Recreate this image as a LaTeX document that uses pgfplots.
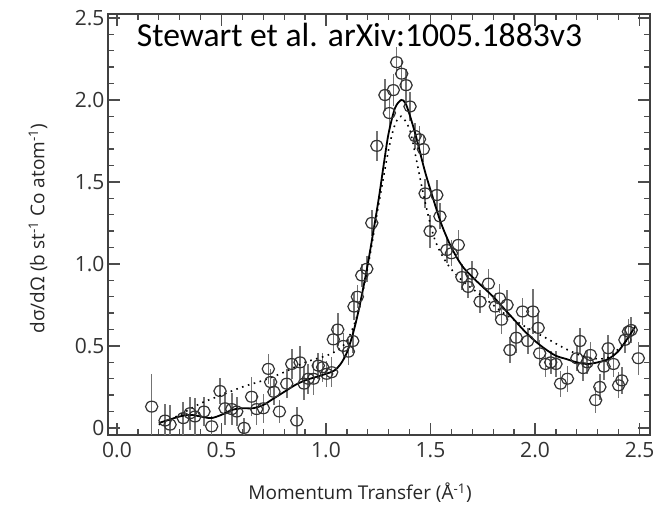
\documentclass[border=0pt]{standalone}
\usepackage{fontspec}
\setmainfont{Open Sans}
\newfontfamily\titlefont{Carlito}
\usepackage{pgfplots}
\pgfplotsset{compat=1.18}
\pgfplotsset{error bars/error bar style={draw=black!55, line width=1.6pt}}

\begin{document}
\begin{tikzpicture}
\begin{axis}[
  scale only axis,
  width=542pt, height=421pt,
  xmin=-0.043, xmax=2.55,
  ymin=-0.043, ymax=2.524,
  xtick={0,0.5,1,1.5,2,2.5},
  xticklabels={0.0,0.5,1.0,1.5,2.0,2.5},
  ytick={0,0.5,1,1.5,2,2.5},
  yticklabels={0,0.5,1.0,1.5,2.0,2.5},
  minor x tick num=4, minor y tick num=4,
  major tick length=12pt, minor tick length=6pt,
  tick style={black!70, line width=1.3pt},
  axis line style={black!75, line width=1.4pt},
  tick label style={font=\fontsize{21}{24}\selectfont, text=black!80},
  xticklabel style={yshift=-4pt},
  /pgf/number format/assume math mode=true,
  every axis x label/.style={at={(axis description cs:0.465,-0.138)}, anchor=center,
     font=\fontsize{19}{22}\selectfont, text=black!85},
  every axis y label/.style={at={(axis description cs:-0.129,0.49)}, rotate=90, anchor=center,
     font=\fontsize{19}{22}\selectfont, text=black!85},
  xlabel={Momentum Transfer (Å\textsuperscript{-1})},
  ylabel={dσ/dΩ (b st\textsuperscript{-1} Co atom\textsuperscript{-1})},
  clip=true,
]
% data points with error bars
\addplot[only marks, mark=o, mark size=5.7pt,
  mark options={draw=black!80, line width=1.2pt, fill=none, xscale=1.08, yscale=0.95},
  error bars/.cd, y dir=both, y explicit, error mark=none]
table[x=x, y=y, y error=e] {
x y e
0.166 0.13 0.20
0.230 0.045 0.10
0.254 0.02 0.12
0.317 0.06 0.10
0.350 0.09 0.10
0.373 0.07 0.11
0.416 0.10 0.09
0.453 0.01 0.06
0.493 0.225 0.08
0.517 0.12 0.10
0.549 0.115 0.10
0.573 0.10 0.09
0.608 0.00 0.06
0.644 0.19 0.12
0.668 0.115 0.10
0.700 0.12 0.09
0.724 0.36 0.09
0.735 0.28 0.08
0.751 0.22 0.08
0.777 0.10 0.07
0.812 0.27 0.09
0.836 0.39 0.09
0.860 0.045 0.08
0.876 0.40 0.10
0.895 0.27 0.10
0.915 0.30 0.09
0.940 0.30 0.10
0.963 0.38 0.08
0.984 0.37 0.09
1.003 0.33 0.08
1.027 0.34 0.09
1.035 0.54 0.08
1.056 0.60 0.10
1.083 0.50 0.08
1.107 0.465 0.08
1.128 0.53 0.07
1.134 0.74 0.08
1.150 0.80 0.07
1.171 0.93 0.07
1.195 0.97 0.08
1.219 1.25 0.08
1.243 1.72 0.09
1.282 2.03 0.10
1.303 1.92 0.10
1.322 2.06 0.10
1.338 2.23 0.09
1.362 2.16 0.09
1.383 2.09 0.10
1.402 1.96 0.09
1.426 1.78 0.08
1.447 1.76 0.08
1.466 1.70 0.08
1.474 1.43 0.09
1.498 1.20 0.10
1.530 1.42 0.09
1.545 1.29 0.08
1.578 1.085 0.08
1.600 1.065 0.08
1.633 1.116 0.09
1.650 0.92 0.08
1.680 0.86 0.07
1.697 0.94 0.08
1.737 0.77 0.07
1.777 0.88 0.09
1.810 0.74 0.08
1.830 0.79 0.09
1.840 0.66 0.09
1.866 0.75 0.09
1.880 0.475 0.08
1.910 0.55 0.09
1.940 0.71 0.08
1.965 0.53 0.08
1.990 0.71 0.14
2.015 0.61 0.09
2.022 0.455 0.08
2.050 0.39 0.08
2.075 0.40 0.07
2.100 0.39 0.08
2.122 0.27 0.08
2.155 0.30 0.08
2.200 0.425 0.08
2.215 0.53 0.08
2.230 0.365 0.08
2.250 0.40 0.07
2.265 0.445 0.08
2.290 0.17 0.08
2.310 0.25 0.08
2.330 0.374 0.08
2.350 0.486 0.08
2.375 0.39 0.08
2.400 0.26 0.08
2.415 0.29 0.08
2.430 0.537 0.08
2.447 0.587 0.08
2.460 0.597 0.08
2.494 0.425 0.10
};
% dotted model curve
\addplot[black, line width=1.6pt, dash pattern=on 1.6pt off 4.5pt, smooth] coordinates {
(0.20,0.02) (0.30,0.08) (0.40,0.15) (0.50,0.20) (0.60,0.25) (0.70,0.29)
(0.80,0.34) (0.90,0.40) (1.00,0.44) (1.05,0.47) (1.10,0.53) (1.15,0.69)
(1.20,0.98) (1.25,1.35) (1.30,1.70) (1.33,1.85) (1.36,1.90) (1.40,1.82)
(1.43,1.65) (1.47,1.40) (1.52,1.15) (1.58,1.00) (1.65,0.90) (1.75,0.80)
(1.85,0.70) (1.95,0.62) (2.05,0.55) (2.15,0.48) (2.25,0.43) (2.35,0.43)
(2.45,0.55)
};
% solid fit curve
\addplot[black, line width=1.8pt, smooth] coordinates {
(0.20,0.03) (0.25,0.05) (0.30,0.07) (0.35,0.08) (0.40,0.07) (0.45,0.06)
(0.50,0.08) (0.55,0.11) (0.60,0.12) (0.65,0.12) (0.70,0.14) (0.75,0.18)
(0.80,0.22) (0.85,0.26) (0.90,0.29) (0.95,0.31) (1.00,0.33) (1.04,0.35)
(1.07,0.39) (1.10,0.46) (1.13,0.58) (1.16,0.74) (1.20,1.00) (1.25,1.38)
(1.28,1.64) (1.30,1.80) (1.33,1.95) (1.36,2.00) (1.38,1.98) (1.40,1.91)
(1.43,1.78) (1.47,1.58) (1.50,1.45) (1.55,1.25) (1.60,1.10) (1.65,0.99)
(1.70,0.92) (1.75,0.86) (1.80,0.80) (1.85,0.73) (1.90,0.66) (1.95,0.59)
(2.00,0.53) (2.05,0.48) (2.10,0.44) (2.15,0.42) (2.20,0.40) (2.25,0.39)
(2.30,0.40) (2.35,0.42) (2.40,0.47) (2.45,0.56) (2.48,0.62)
};
\node[font=\titlefont\fontsize{33.6}{38}\selectfont, text=black, anchor=center]
  at (rel axis cs:0.464,0.950) {Stewart et al. arXiv:1005.1883v3};
\end{axis}
\pgfresetboundingbox
\path[use as bounding box] (-108pt,-75pt) rectangle (558pt,435pt);
\end{tikzpicture}
\end{document}
